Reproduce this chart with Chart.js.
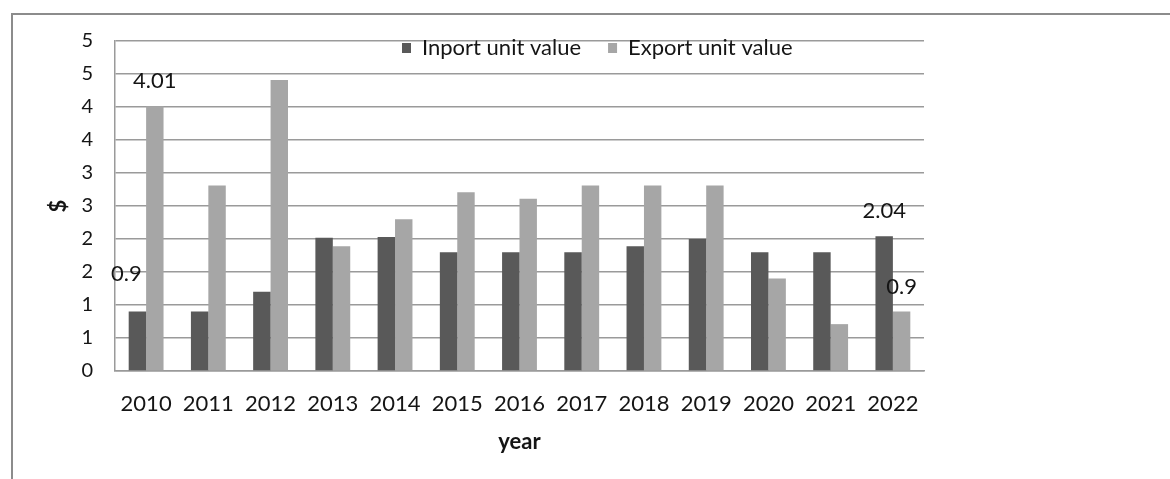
<!DOCTYPE html>
<html>
<head>
<meta charset="utf-8">
<script src="https://cdn.jsdelivr.net/npm/chart.js@4.4.1/dist/chart.umd.min.js"></script>
<style>
  html, body { margin: 0; padding: 0; background: #fff; }
  #wrap { position: relative; width: 1170px; height: 479px; overflow: hidden; }
  #frame { position: absolute; left: 11px; top: 13px; width: 1200px; height: 500px;
           border-top: 2px solid #8c8c8c; border-left: 2px solid #8c8c8c; }
  #chart { position: absolute; left: 0; top: 0; }
</style>
</head>
<body>
<div id="wrap">
  <div id="frame"></div>
  <canvas id="chart" width="1170" height="479"></canvas>
</div>
<script>
const years = ['2010', '2011', '2012', '2013', '2014', '2015', '2016', '2017', '2018', '2019', '2020', '2021', '2022'];
const importValues = [0.9, 0.9, 1.2, 2.02, 2.03, 1.8, 1.8, 1.8, 1.89, 2.0, 1.8, 1.8, 2.04];
const exportValues = [4.01, 2.81, 4.41, 1.89, 2.3, 2.71, 2.61, 2.81, 2.81, 2.81, 1.4, 0.71, 0.9];
const importLabels = ['0.9', '', '', '', '', '', '', '', '', '', '', '', '2.04'];
const exportLabels = ['4.01', '', '', '', '', '', '', '', '', '', '', '', '0.9'];
const seriesNames = ['Inport unit value', 'Export unit value'];

const FONT = "Lato, 'Open Sans', sans-serif";
const TEXT = '#151515';
const GRID = '#9a9a9a';
const colors = ['#595959', '#a6a6a6'];

// Excel-style legend sitting inside the plot, over the top gridline
const legendInside = {
  id: 'legendInside',
  afterDraw(chart) {
    const ctx = chart.ctx;
    const area = chart.chartArea;
    let x = area.left + 287;
    const y = area.top + 7;
    ctx.save();
    ctx.font = '22px ' + FONT;
    ctx.textBaseline = 'middle';
    ctx.textAlign = 'left';
    seriesNames.forEach((name, i) => {
      ctx.fillStyle = colors[i];
      ctx.fillRect(x, y - 5, 9, 10);
      ctx.fillStyle = TEXT;
      ctx.fillText(name, x + 20, y);
      x += 20 + ctx.measureText(name).width + 27;
    });
    ctx.restore();
  }
};

// value labels placed above selected bars
const barLabels = {
  id: 'barLabels',
  afterDatasetsDraw(chart) {
    const ctx = chart.ctx;
    const sets = [importLabels, exportLabels];
    ctx.save();
    ctx.font = '22px ' + FONT;
    ctx.fillStyle = TEXT;
    ctx.textAlign = 'center';
    ctx.textBaseline = 'middle';
    sets.forEach((labels, d) => {
      const meta = chart.getDatasetMeta(d);
      labels.forEach((txt, i) => {
        if (!txt) return;
        const bar = meta.data[i];
        let dx = 0, dy = -25;
        if (d === 0 && i === 0) { dx = -11; dy = -38; }
        ctx.fillText(txt, bar.x + dx, bar.y + dy);
      });
    });
    ctx.restore();
  }
};

new Chart(document.getElementById('chart'), {
  type: 'bar',
  data: {
    labels: years,
    datasets: [
      { label: seriesNames[0], data: importValues, backgroundColor: colors[0] },
      { label: seriesNames[1], data: exportValues, backgroundColor: colors[1] }
    ]
  },
  options: {
    responsive: false,
    devicePixelRatio: 1,
    animation: false,
    categoryPercentage: 0.56,
    barPercentage: 1.0,
    layout: { padding: { top: 41, right: 246, bottom: 0, left: 0 } },
    plugins: {
      legend: { display: false },
      tooltip: { enabled: false }
    },
    scales: {
      x: {
        grid: { display: false },
        border: { display: true, color: GRID, width: 1.5 },
        ticks: { color: TEXT, font: { family: FONT, size: 22 }, padding: 12, maxRotation: 0 },
        title: { display: true, text: 'year', color: TEXT, font: { family: FONT, size: 22, weight: 'bold' }, padding: { top: 0, bottom: 24 } },
        afterFit(scale) { scale.height = 108; }
      },
      y: {
        min: 0,
        max: 5,
        grid: { color: GRID, lineWidth: 1.5, drawTicks: false },
        border: { display: true, color: GRID, width: 1.5 },
        ticks: {
          stepSize: 0.5,
          color: TEXT,
          font: { family: FONT, size: 20 },
          padding: 22,
          callback: v => String(Math.round(v))
        },
        title: { display: true, text: '$', color: TEXT, font: { family: FONT, size: 22, weight: 'bold' }, padding: { top: 46, bottom: 0 } },
        afterFit(scale) { scale.width = 115; }
      }
    }
  },
  plugins: [legendInside, barLabels]
});
</script>
</body>
</html>
